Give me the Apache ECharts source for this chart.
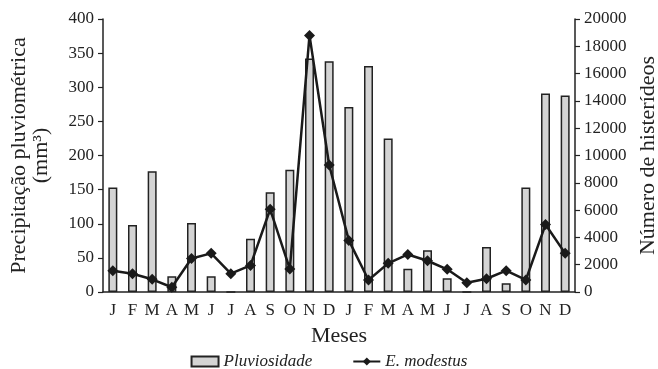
<!DOCTYPE html>
<html>
<head>
<meta charset="utf-8">
<script src="https://cdn.jsdelivr.net/npm/echarts@6/dist/echarts.min.js"></script>
<style>
  html, body { margin: 0; padding: 0; background: #fff; }
  #chart { width: 658px; height: 369px; }
</style>
</head>
<body>
<div id="chart"></div>
<script>
// two years of monthly readings
const months = ['J','F','M','A','M','J','J','A','S','O','N','D',
                'J','F','M','A','M','J','J','A','S','O','N','D'];
const rainfall = [153, 98, 177, 23, 101, 23, 0, 78, 146, 179, 342, 338,
                  271, 331, 225, 34, 61, 20, 0, 66, 13, 153, 291, 288];
const beetles = [1550, 1340, 930, 350, 2460, 2830, 1340, 1950, 6060, 1690, 18800, 9300,
                 3780, 880, 2100, 2750, 2290, 1660, 680, 970, 1560, 880, 4940, 2830];
const leftTicks = [0, 400, 50];
const rightTicks = [0, 20000, 2000];

const ink = '#222';
const serif = '"Liberation Serif", "DejaVu Serif", serif';

const chart = echarts.init(document.getElementById('chart'));

chart.setOption({
    animation: false,
    textStyle: { fontFamily: serif, color: ink },
    grid: {
        left: 103, right: 83, top: 19, bottom: 77,
        containLabel: false,
        outerBoundsMode: 'none'
    },
    legend: {
        top: 348,
        left: 'center',
        itemGap: 40,
        itemWidth: 27,
        itemHeight: 10,
        textStyle: { fontFamily: serif, fontSize: 17, fontStyle: 'italic', color: ink },
        data: [
            { name: 'Pluviosidade', icon: 'rect' },
            { name: 'E. modestus' }
        ]
    },
    xAxis: {
        type: 'category',
        data: months,
        name: 'Meses',
        nameLocation: 'middle',
        nameGap: 33,
        nameTextStyle: { fontFamily: serif, fontSize: 22, color: ink },
        axisLine: { lineStyle: { color: ink, width: 1.5 } },
        axisTick: { alignWithLabel: false, length: 6, lineStyle: { color: ink, width: 1.2 } },
        axisLabel: { interval: 0, margin: 10, fontSize: 17, color: ink, fontFamily: serif }
    },
    yAxis: [
        {
            type: 'value',
            min: leftTicks[0], max: leftTicks[1], interval: leftTicks[2],
            name: 'Precipitação pluviométrica\n(mm³)',
            nameLocation: 'middle',
            nameRotate: 90,
            nameGap: 51,
            nameTextStyle: { fontFamily: serif, fontSize: 22, color: ink, lineHeight: 22 },
            splitLine: { show: false },
            axisLine: { show: true, lineStyle: { color: ink, width: 1.5 } },
            axisTick: { show: true, length: 5, lineStyle: { color: ink, width: 1.2 } },
            axisLabel: { fontSize: 17, margin: 9, color: ink, fontFamily: serif }
        },
        {
            type: 'value',
            position: 'right',
            min: rightTicks[0], max: rightTicks[1], interval: rightTicks[2],
            name: 'Número de histerídeos',
            nameLocation: 'middle',
            nameRotate: 90,
            nameGap: 53,
            nameTextStyle: { fontFamily: serif, fontSize: 22, color: ink },
            splitLine: { show: false },
            axisLine: { show: true, lineStyle: { color: ink, width: 1.5 } },
            axisTick: { show: true, length: 5, lineStyle: { color: ink, width: 1.2 } },
            axisLabel: {
                fontSize: 17, margin: 9, color: ink, fontFamily: serif,
                formatter: v => String(v)
            }
        }
    ],
    series: [
        {
            name: 'Pluviosidade',
            type: 'bar',
            yAxisIndex: 0,
            data: rainfall,
            barWidth: 9,
            itemStyle: { color: '#d4d4d4', borderColor: ink, borderWidth: 1.5 }
        },
        {
            name: 'E. modestus',
            type: 'line',
            yAxisIndex: 1,
            data: beetles,
            symbol: 'diamond',
            symbolSize: 11,
            itemStyle: { color: '#1a1a1a' },
            lineStyle: { color: '#1a1a1a', width: 2.5 }
        }
    ]
});
</script>
</body>
</html>
